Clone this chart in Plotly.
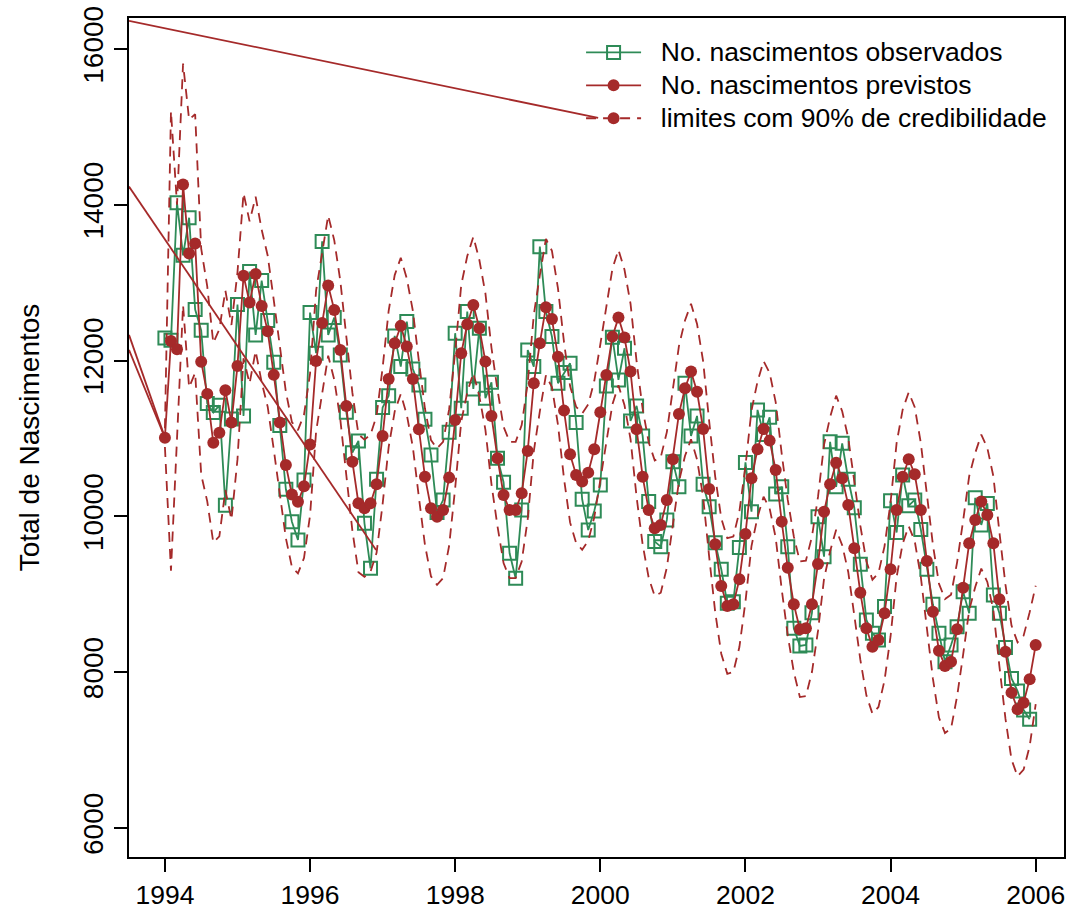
import plotly.graph_objects as go

# ---------------- data ----------------
START_YEAR = 1994
N_MONTHS_PRED = 145   # Jan 1994 .. Jan 2006
N_MONTHS_OBS = 144    # Jan 1994 .. Dec 2005

observados = [
    12290, 12260, 14026, 13352, 13834, 12656, 12389, 11449, 11335, 11426, 10142, 11250,
    12720, 11290, 13143, 12330, 13027, 12514, 11980, 11166, 10349, 9932, 9698, 10468,
    12617, 12095, 13530, 12330, 12552, 12073, 11337, 10818, 10969, 9911, 9334, 10477,
    11397, 11549, 12317, 11923, 12501, 11893, 11688, 11247, 10789, 10050, 10210, 11081,
    12352, 11389, 12630, 11637, 12416, 11517, 11722, 10747, 10439, 9527, 9206, 10083,
    12137, 11923, 13463, 12630, 12308, 11710, 11846, 11966, 11207, 10220, 9826, 10070,
    10404, 11675, 12300, 11752, 12159, 11226, 11418, 11033, 10190, 9677, 9612, 9955,
    10703, 10380, 11710, 11033, 11290, 10413, 10125, 9663, 9322, 8885, 8906, 9602,
    10693, 10061, 11367, 11050, 11273, 10289, 10380, 9612, 8563, 8337, 8350, 8763,
    9997, 9483, 10958, 10380, 10938, 10477, 10112, 9385, 8671, 8500, 8414, 8842,
    10200, 9794, 10533, 10138, 10212, 9833, 9322, 8872, 8500, 8135, 8350, 8585,
    9034, 8756, 10238, 9891, 10167, 8992, 8756, 8318, 7920, 7759, 7515, 7395,
]

previstos = [
    11011, 12253, 12146, 14262, 13375, 13503, 11986, 11573, 10945, 11073, 11619, 11207,
    11932, 13090, 12747, 13113, 12702, 12376, 11817, 11207, 10661, 10281, 10188, 10386,
    10923, 11996, 12482, 12963, 12651, 12137, 11418, 10703, 10169, 10105, 10169, 10413,
    11033, 11765, 12223, 12446, 12180, 11765, 11119, 10510, 10105, 9997, 10083, 10498,
    11239, 12095, 12467, 12715, 12416, 11987, 11290, 10747, 10276, 10083, 10083, 10297,
    10841, 11710, 12223, 12686, 12535, 12051, 11358, 10798, 10533, 10447, 10562, 10862,
    11337, 11816, 12308, 12552, 12296, 11859, 11119, 10510, 10083, 9848, 9891, 10212,
    10734, 11316, 11645, 11859, 11600, 11123, 10353, 9642, 9107, 8850, 8872, 9193,
    9775, 10490, 10862, 11123, 10973, 10597, 9933, 9342, 8872, 8551, 8563, 8872,
    9390, 10061, 10413, 10690, 10490, 10147, 9591, 9021, 8563, 8328, 8414, 8756,
    9322, 10083, 10510, 10734, 10541, 10083, 9428, 8777, 8277, 8080, 8135, 8551,
    9085, 9655, 9955, 10190, 10019, 9655, 8936, 8264, 7738, 7524, 7609, 7909,
    8350,
]

limite_superior = [
    11130, 15203, 14000, 15812, 15095, 15163, 13436, 12953, 12225, 12403, 12899, 12457,
    13132, 14150, 13787, 14103, 13682, 13346, 12777, 12157, 11601, 11211, 11108, 11306,
    11833, 12901, 13382, 13863, 13546, 13027, 12308, 11588, 11054, 10985, 11049, 11293,
    11908, 12640, 13098, 13321, 13055, 12640, 11994, 11385, 10980, 10872, 10958, 11373,
    12114, 12970, 13342, 13590, 13291, 12862, 12165, 11622, 11151, 10958, 10958, 11172,
    11716, 12585, 13098, 13561, 13410, 12926, 12233, 11673, 11408, 11322, 11437, 11737,
    12207, 12686, 13178, 13422, 13166, 12729, 11989, 11380, 10953, 10718, 10761, 11082,
    11604, 12186, 12515, 12729, 12470, 11993, 11223, 10512, 9977, 9720, 9742, 10063,
    10645, 11360, 11732, 11993, 11843, 11467, 10803, 10212, 9742, 9421, 9433, 9742,
    10250, 10921, 11273, 11550, 11350, 11007, 10451, 9881, 9423, 9188, 9274, 9616,
    10182, 10943, 11370, 11594, 11401, 10943, 10288, 9637, 9137, 8940, 8995, 9411,
    9945, 10515, 10815, 11050, 10879, 10515, 9796, 9124, 8598, 8384, 8469, 8769,
    9110,
]

limite_inferior = [
    10890, 9303, 11000, 12712, 11655, 11843, 10536, 10193, 9665, 9743, 10339, 9957,
    10732, 12030, 11707, 12123, 11722, 11406, 10857, 10257, 9721, 9351, 9268, 9466,
    10013, 11091, 11582, 12063, 11756, 11247, 10528, 9818, 9284, 9225, 9289, 9533,
    10158, 10890, 11348, 11571, 11305, 10890, 10244, 9635, 9230, 9122, 9208, 9623,
    10364, 11220, 11592, 11840, 11541, 11112, 10415, 9872, 9401, 9208, 9208, 9422,
    9966, 10835, 11348, 11811, 11660, 11176, 10483, 9923, 9658, 9572, 9687, 9987,
    10467, 10946, 11438, 11682, 11426, 10989, 10249, 9640, 9213, 8978, 9021, 9342,
    9864, 10446, 10775, 10989, 10730, 10253, 9483, 8772, 8237, 7980, 8002, 8323,
    8905, 9620, 9992, 10253, 10103, 9727, 9063, 8472, 8002, 7681, 7693, 8002,
    8530, 9201, 9553, 9830, 9630, 9287, 8731, 8161, 7703, 7468, 7554, 7896,
    8462, 9223, 9650, 9874, 9681, 9223, 8568, 7917, 7417, 7220, 7275, 7691,
    8225, 8795, 9095, 9330, 9159, 8795, 8076, 7404, 6878, 6664, 6749, 7049,
    7590,
]

# stray connector segments visible in the original figure
segmentos_x = [[1993.505, 1999.97], [1993.505, 1996.91], [1993.505, 1994.0], [1993.505, 1994.0]]
segmentos_y = [[16362, 15116], [14234, 9570], [12330, 11011], [12137, 11011]]

x_ticks = [1994, 1996, 1998, 2000, 2002, 2004, 2006]
y_ticks = [6000, 8000, 10000, 12000, 14000, 16000]

legend_labels = ["No. nascimentos observados", "No. nascimentos previstos",
                 "limites com 90% de credibilidade"]
y_title = "Total de Nascimentos"

# ---------------- styling ----------------
GREEN = "#2E8B57"
BROWN = "#A52A2A"
FONT = "Liberation Sans, Arial, Helvetica, sans-serif"
FS_H = 26.5   # horizontal texts
FS_V = 28     # rotated texts
FS_LEG_ROW = 23  # controls legend row spacing


def leg_name(txt):
    return '<span style="font-size:%spx">\u00a0\u00a0%s</span>' % (FS_H, txt)


t_pred = [START_YEAR + m / 12 for m in range(N_MONTHS_PRED)]
t_obs = [START_YEAR + m / 12 for m in range(N_MONTHS_OBS)]

fig = go.Figure()

fig.add_trace(go.Scatter(
    x=t_obs, y=observados, mode="lines+markers", name=leg_name(legend_labels[0]),
    line=dict(color=GREEN, width=1.8),
    marker=dict(symbol="square-open", size=13, color=GREEN, line=dict(width=2, color=GREEN)),
))
fig.add_trace(go.Scatter(
    x=t_pred, y=previstos, mode="lines+markers", name=leg_name(legend_labels[1]),
    line=dict(color=BROWN, width=1.8),
    marker=dict(symbol="circle", size=12, color=BROWN),
))
fig.add_trace(go.Scatter(
    x=t_pred, y=limite_superior, mode="lines", showlegend=False,
    line=dict(color=BROWN, width=1.8, dash="10px,7px"),
))
fig.add_trace(go.Scatter(
    x=t_pred, y=limite_inferior, mode="lines", showlegend=False,
    line=dict(color=BROWN, width=1.8, dash="10px,7px"),
))
for sx, sy in zip(segmentos_x, segmentos_y):
    fig.add_trace(go.Scatter(
        x=sx, y=sy, mode="lines", showlegend=False,
        line=dict(color=BROWN, width=1.8),
    ))
# legend entry for the credibility limits (line + point, as in the original legend)
fig.add_trace(go.Scatter(
    x=[None], y=[None], mode="lines+markers", name=leg_name(legend_labels[2]),
    line=dict(color=BROWN, width=1.8, dash="10px,7px"),
    marker=dict(symbol="circle", size=12, color=BROWN),
))

axis_common = dict(
    showline=True, mirror=True, linecolor="black", linewidth=1.5,
    ticks="outside", ticklen=13, tickwidth=1.5, tickcolor="black",
    showgrid=False, zeroline=False,
)

fig.update_layout(
    width=1070, height=921,
    margin=dict(l=129, r=4, t=18, b=64),
    paper_bgcolor="white", plot_bgcolor="white",
    font=dict(family=FONT, size=FS_H, color="black"),
    xaxis=dict(range=[1993.505, 2006.39], tickvals=x_ticks,
               ticktext=[str(v) for v in x_ticks], ticklabelstandoff=0,
               tickfont=dict(family=FONT, size=FS_H, color="black"), **axis_common),
    yaxis=dict(range=[5628, 16398], tickvals=y_ticks,
               ticktext=[str(v) for v in y_ticks], tickangle=-90, ticklabelstandoff=0,
               tickfont=dict(family=FONT, size=FS_V, color="black"),
               title=dict(text=y_title, font=dict(family=FONT, size=FS_V, color="black"),
                          standoff=30),
               **axis_common),
    legend=dict(
        x=0.4835, y=0.9845, xanchor="left", yanchor="top",
        bgcolor="rgba(255,255,255,0)", borderwidth=0,
        font=dict(family=FONT, size=FS_LEG_ROW, color="black"),
        itemwidth=55, tracegroupgap=0,
    ),
    showlegend=True,
)

fig.write_html("out.html", config={"displayModeBar": False},
               post_script="document.body.style.margin='0px';")
